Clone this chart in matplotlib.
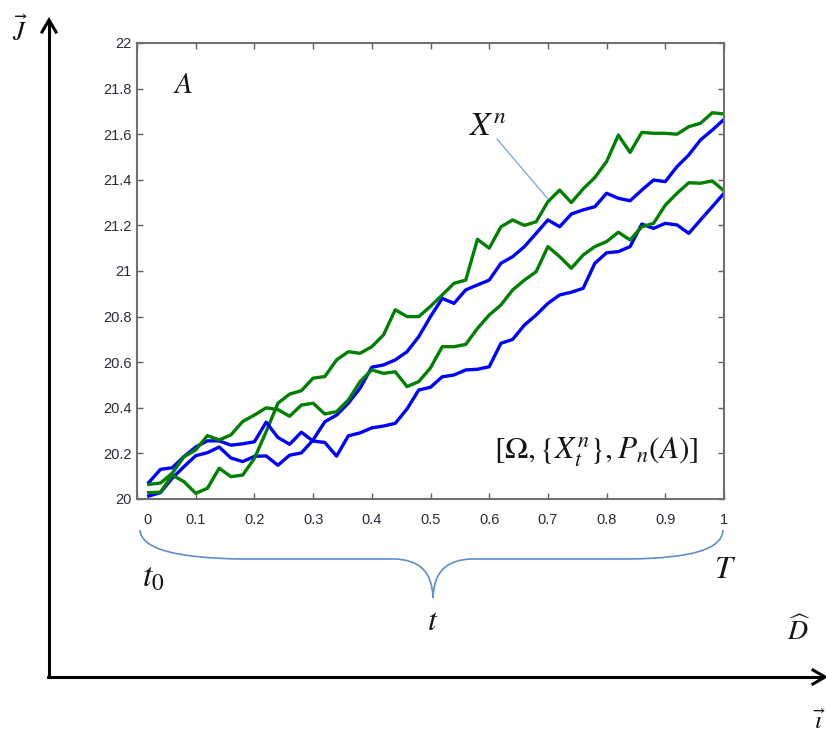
import matplotlib
matplotlib.use('Agg')
import matplotlib.pyplot as plt
import matplotlib.transforms as mtrans
from matplotlib.path import Path
from matplotlib.patches import PathPatch

plt.rcParams['mathtext.fontset'] = 'stix'

# ---------------- data ----------------
t = [round(0.02 * i, 2) for i in range(1, 51)]

green_upper = [20.028, 20.030, 20.105, 20.076, 20.025, 20.047, 20.135, 20.098, 20.105, 20.178,
               20.295, 20.420, 20.460, 20.475, 20.530, 20.537, 20.610, 20.646, 20.639, 20.668,
               20.720, 20.830, 20.800, 20.800, 20.845, 20.895, 20.946, 20.960, 21.139, 21.100,
               21.194, 21.224, 21.200, 21.216, 21.304, 21.355, 21.300, 21.360, 21.410, 21.480,
               21.596, 21.520, 21.608, 21.604, 21.604, 21.600, 21.633, 21.648, 21.694, 21.689]

green_lower = [20.064, 20.070, 20.113, 20.185, 20.215, 20.278, 20.259, 20.281, 20.340, 20.368,
               20.400, 20.392, 20.363, 20.412, 20.420, 20.373, 20.383, 20.434, 20.515, 20.566,
               20.551, 20.558, 20.493, 20.515, 20.575, 20.668, 20.668, 20.678, 20.748, 20.807,
               20.851, 20.917, 20.960, 20.997, 21.107, 21.063, 21.012, 21.070, 21.107, 21.129,
               21.170, 21.136, 21.194, 21.209, 21.289, 21.341, 21.387, 21.385, 21.395, 21.352]

blue_upper = [20.013, 20.028, 20.091, 20.142, 20.190, 20.203, 20.228, 20.180, 20.164, 20.187,
              20.189, 20.148, 20.192, 20.202, 20.259, 20.339, 20.368, 20.420, 20.486, 20.578,
              20.588, 20.610, 20.646, 20.712, 20.800, 20.880, 20.858, 20.917, 20.939, 20.960,
              21.034, 21.063, 21.107, 21.165, 21.224, 21.194, 21.250, 21.268, 21.282, 21.341,
              21.319, 21.308, 21.355, 21.399, 21.392, 21.458, 21.509, 21.575, 21.618, 21.665]

blue_lower = [20.072, 20.130, 20.137, 20.186, 20.228, 20.255, 20.255, 20.236, 20.242, 20.251,
              20.337, 20.270, 20.240, 20.293, 20.254, 20.248, 20.188, 20.277, 20.290, 20.312,
              20.320, 20.332, 20.395, 20.478, 20.490, 20.536, 20.544, 20.566, 20.569, 20.580,
              20.683, 20.700, 20.763, 20.807, 20.858, 20.895, 20.907, 20.924, 21.034, 21.080,
              21.085, 21.107, 21.206, 21.187, 21.209, 21.202, 21.165, 21.224, 21.282, 21.341]

y_ticks = [20, 20.2, 20.4, 20.6, 20.8, 21, 21.2, 21.4, 21.6, 21.8, 22]
y_tick_labels = ['20', '20.2', '20.4', '20.6', '20.8', '21', '21.2', '21.4', '21.6', '21.8', '22']
x_ticks = [0, 0.1, 0.2, 0.3, 0.4, 0.5, 0.6, 0.7, 0.8, 0.9, 1]
x_tick_labels = ['0', '0.1', '0.2', '0.3', '0.4', '0.5', '0.6', '0.7', '0.8', '0.9', '1']

# ---------------- figure ----------------
W, H = 826, 733
fig = plt.figure(figsize=(W / 100, H / 100), dpi=100)
fig.patch.set_facecolor('white')


def fx(px):
    return px / W


def fy(py):
    return 1 - py / H


ax = fig.add_axes([fx(137), fy(499), (724 - 137) / W, (499 - 43) / H])
BLUE = '#0000ff'
GREEN = '#008000'
lw = 2.4
ax.plot(t, blue_upper, color=BLUE, lw=lw)
ax.plot(t, green_upper, color=GREEN, lw=lw)
ax.plot(t, blue_lower, color=BLUE, lw=lw)
ax.plot(t, green_lower, color=GREEN, lw=lw)

ax.set_xlim(0, 1)
ax.set_ylim(20, 22)
ax.set_xticks(x_ticks)
ax.set_xticklabels(x_tick_labels)
ax.set_yticks(y_ticks)
ax.set_yticklabels(y_tick_labels)
for s in ax.spines.values():
    s.set_color('#707070')
    s.set_linewidth(1.5)
ax.tick_params(direction='in', length=4, width=1, color='#606060',
               top=True, right=True, labelsize=10.5, labelcolor='#2a2a3a')
ax.tick_params(axis='x', pad=10)
ax.tick_params(axis='y', pad=4)
for lab in ax.get_xticklabels() + ax.get_yticklabels():
    lab.set_family('Liberation Sans')
# the "0" label sits a little right of the spine in the original
xl0 = ax.get_xticklabels()[0]
xl0.set_transform(xl0.get_transform() +
                  mtrans.ScaledTranslation(10 / 100, 0, fig.dpi_scale_trans))

# ---------------- annotations (figure pixels) ----------------
TXT = '#151515'


def ftext(px, py, s, size, **kw):
    fig.text(fx(px), fy(py), s, fontsize=size, color=TXT,
             ha='center', va='center', **kw)


ftext(183, 85, r'$A$', 21)
ftext(488, 127, r'$X^n$', 24)
ftext(596, 452, r'$[\Omega,\{X_t^n\},P_n(A)]$', 22.5)
ftext(153, 577, r'$t_0$', 24)
ftext(725, 570, r'$T$', 23)
ftext(433, 621, r'$t$', 23)
ftext(799, 631, r'$\widehat{D}$', 20)
ftext(20, 32, r'$\vec{J}$', 19)
ftext(819, 722, r'$\vec{\iota}$', 18)

# pointer line from X^n label to curve
fig.add_artist(plt.Line2D([fx(497), fx(548)], [fy(139), fy(199)],
                          color='#7aa6d8', lw=0.9))

# outer coordinate arrows
fig.add_artist(plt.Line2D([fx(49), fx(49)], [fy(677), fy(22)], color='black', lw=2.2))
fig.add_artist(plt.Line2D([fx(48), fx(823)], [fy(677), fy(677)], color='black', lw=2.2))
fig.add_artist(plt.Line2D([fx(42), fx(49), fx(56)], [fy(32), fy(20), fy(32)],
                          color='black', lw=2.2, solid_joinstyle='miter'))
fig.add_artist(plt.Line2D([fx(813), fx(825), fx(813)], [fy(670), fy(677), fy(684)],
                          color='black', lw=2.2, solid_joinstyle='miter'))

# brace under the axis
pts = [
    (140, 530), (141, 550), (180, 558), (240, 559),
    (395, 559),
    (418, 560), (432, 570), (433, 598),
    (434, 570), (448, 560), (471, 559),
    (630, 559),
    (690, 558), (722, 550), (723, 530),
]
codes = [Path.MOVETO, Path.CURVE4, Path.CURVE4, Path.CURVE4,
         Path.LINETO,
         Path.CURVE4, Path.CURVE4, Path.CURVE4,
         Path.CURVE4, Path.CURVE4, Path.CURVE4,
         Path.LINETO,
         Path.CURVE4, Path.CURVE4, Path.CURVE4]
verts = [(fx(x), fy(y)) for x, y in pts]
fig.add_artist(PathPatch(Path(verts, codes), transform=fig.transFigure,
                         fill=False, edgecolor='#5b8fcf', lw=1.2))

fig.savefig('out.png', dpi=100, facecolor='white')
